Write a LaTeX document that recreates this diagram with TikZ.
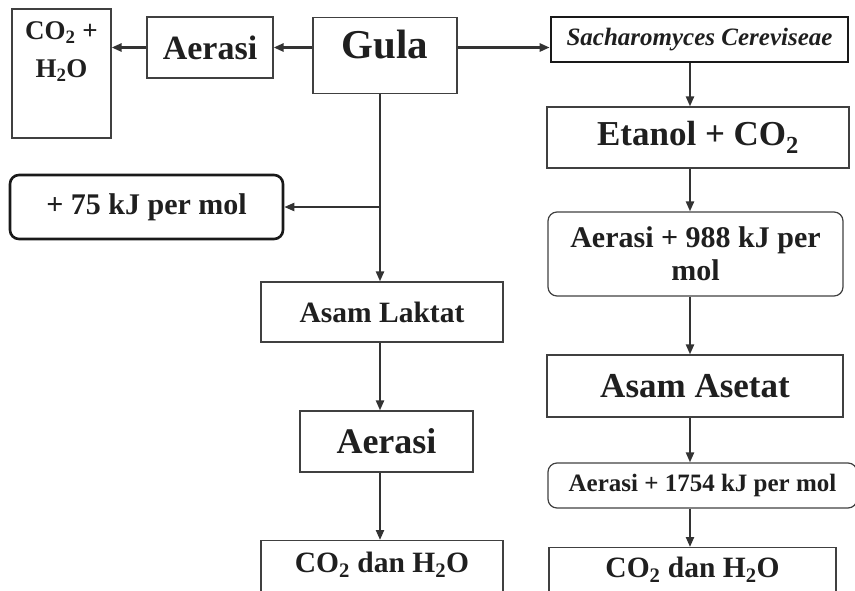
\documentclass[tikz,border=0pt]{standalone}
\usepackage{fontspec}
\setmainfont{Liberation Serif}
\usetikzlibrary{arrows.meta}

\begin{document}
\begin{tikzpicture}[x=1pt, y=-1pt,
    box/.style={draw=black!75, line width=1.2pt, rectangle, inner sep=0pt, align=center, text=black!88, font=\bfseries},
    rbox/.style={box, rounded corners=9pt},
    heavy/.style={draw=black!90, line width=2.6pt},
    arrow/.style={-{Triangle[length=10pt, width=8pt]}, line width=2.2pt, draw=black!80}
]
\useasboundingbox (0,0) rectangle (855,590);

% column lines
\coordinate (lx) at (380,0);
\coordinate (rx) at (690,0);

% top row
\node[box, minimum width=99pt, minimum height=129pt] (co2a) at (61.5,73.5) {\parbox[c][125pt][t]{95pt}{\centering\fontsize{27}{38}\selectfont\vspace{11pt}CO\textsubscript{2} +\\H\textsubscript{2}O}};
\node[box, minimum width=126pt, minimum height=61pt, font=\bfseries\fontsize{34}{38}\selectfont] (aer1) at (210,47.5) {Aerasi};
\node[box, anchor=north, minimum width=144pt, text height=41pt, text depth=35pt, font=\bfseries\fontsize{41}{45}\selectfont] (gula) at (385,17) {Gula};
\node[box, heavy, minimum width=297pt, minimum height=45pt, font=\bfseries\itshape\fontsize{25}{28}\selectfont] (sach) at (699.5,39.5) {Sacharomyces Cereviseae};

% left column
\node[rbox, heavy, minimum width=273pt, minimum height=64pt, font=\bfseries\fontsize{30}{34}\selectfont] (kj75) at (146.5,207) {+ 75 kJ per mol};
\node[box, minimum width=242pt, minimum height=60pt, font=\bfseries\fontsize{29.5}{33}\selectfont] (laktat) at (382,312) {Asam Laktat};
\node[box, minimum width=173pt, minimum height=61pt, font=\bfseries\fontsize{36}{40}\selectfont] (aer2) at (386.5,441.5) {Aerasi};
\node[box, anchor=north, minimum width=242pt, text height=32pt, text depth=40pt, font=\bfseries\fontsize{29.5}{33}\selectfont] (co2b) at (382,540) {CO\textsubscript{2} dan H\textsubscript{2}O};

% right column
\node[box, minimum width=302pt, minimum height=61pt, font=\bfseries\fontsize{35}{39}\selectfont] (etanol) at (698,137.5) {Etanol + CO\textsubscript{2}};
\node[rbox, minimum width=295pt, minimum height=84pt, font=\bfseries\fontsize{30}{33}\selectfont] (aer988) at (695.5,254) {Aerasi + 988 kJ per\\mol};
\node[box, minimum width=296pt, minimum height=62pt, font=\bfseries\fontsize{35}{39}\selectfont] (asetat) at (695,386) {Asam Asetat};
\node[rbox, minimum width=309pt, minimum height=45pt, font=\bfseries\fontsize{25}{28}\selectfont] (aer1754) at (702.5,485.5) {Aerasi + 1754 kJ per mol};
\node[box, anchor=north, minimum width=287pt, text height=30pt, text depth=40pt, font=\bfseries\fontsize{29.5}{33}\selectfont] (co2c) at (692.5,547) {CO\textsubscript{2} dan H\textsubscript{2}O};

% arrows
\draw[arrow, line width=2.8pt] (gula.west |- aer1.east) -- (aer1.east);
\draw[arrow, line width=2.8pt] (aer1.west) -- (co2a.east |- aer1.west);
\draw[arrow, line width=2.8pt] (gula.east |- aer1.east) -- (sach.west |- aer1.east);

\draw[arrow] (gula.south -| lx) -- (laktat.north -| lx);
\draw[arrow] (lx |- kj75.east) -- (kj75.east);
\draw[arrow] (laktat.south -| lx) -- (aer2.north -| lx);
\draw[arrow] (aer2.south -| lx) -- (co2b.north -| lx);

\draw[arrow] (sach.south -| rx) -- (etanol.north -| rx);
\draw[arrow] (etanol.south -| rx) -- (aer988.north -| rx);
\draw[arrow] (aer988.south -| rx) -- (asetat.north -| rx);
\draw[arrow] (asetat.south -| rx) -- (aer1754.north -| rx);
\draw[arrow] (aer1754.south -| rx) -- (co2c.north -| rx);

\end{tikzpicture}
\end{document}
